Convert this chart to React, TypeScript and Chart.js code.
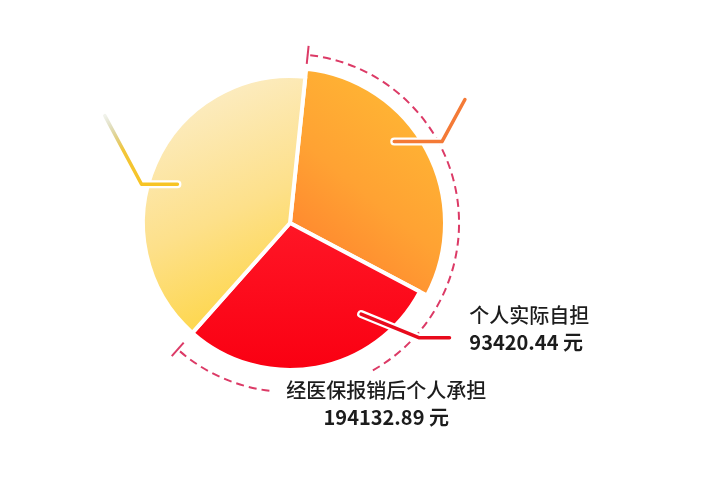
import { useEffect, useRef } from 'react';
import { Chart, registerables } from 'chart.js';
import type { Plugin, ScriptableContext } from 'chart.js';

Chart.register(...registerables);

// slices clockwise from the top: orange, red, yellow
const categories = ['其他个人承担', '个人实际自担', '医保报销'];
const amounts = [100712.45, 93420.44, 130000];
const unit = '元';
const rightLabel = '个人实际自担';
const bottomLabel = '经医保报销后个人承担';

const FONT = '"Noto Sans CJK SC", "Noto Sans", sans-serif';
const TEXT = '#1c1c1c';
const DASH = '#dc3a66';

// angle measured clockwise from 12 o'clock (degrees) -> canvas radians
const rad = (deg: number) => ((deg - 90) * Math.PI) / 180;

function sliceFill(context: ScriptableContext<'pie'>) {
  const index = context.dataIndex;
  const { chart } = context;
  const area = chart.chartArea;
  if (!area) return '#ffc53d';
  const cx = (area.left + area.right) / 2;
  const cy = (area.top + area.bottom) / 2;
  const r = Math.min(area.width, area.height) / 2;
  const c = chart.ctx;
  if (index === 0) {
    const g = c.createLinearGradient(cx + r * 0.95, cy - r * 0.85, cx + r * 0.05, cy + r * 0.25);
    g.addColorStop(0, '#ffb834');
    g.addColorStop(0.55, '#ffa233');
    g.addColorStop(1, '#ff832e');
    return g;
  }
  if (index === 1) {
    const g = c.createLinearGradient(cx, cy, cx, cy + r);
    g.addColorStop(0, '#ff1626');
    g.addColorStop(1, '#fa0012');
    return g;
  }
  const g = c.createLinearGradient(cx - r * 0.8, cy - r * 0.8, cx - r * 0.1, cy + r * 0.7);
  g.addColorStop(0, '#fcecc2');
  g.addColorStop(0.5, '#fde08a');
  g.addColorStop(1, '#fed43c');
  return g;
}

const decorPlugin: Plugin<'pie'> = {
  id: 'pieDecor',
  afterDatasetsUpdate(chart) {
    const arc = chart.getDatasetMeta(0).data[0] as any;
    if (arc) arc.outerRadius += 8;
  },
  afterDatasetsDraw(chart) {
    const arcs = chart.getDatasetMeta(0).data as any[];
    if (arcs.length < 3) return;
    const { ctx } = chart;
    const cx = arcs[1].x;
    const cy = arcs[1].y;
    const R = arcs[1].outerRadius;
    const pt = (a: number, r: number): [number, number] => [cx + r * Math.cos(a), cy + r * Math.sin(a)];

    ctx.save();

    // dashed bracket around the orange + red slices
    const Rd = R * 1.15;
    const a0 = arcs[0].startAngle;
    const a1 = arcs[1].endAngle;
    ctx.strokeStyle = DASH;
    ctx.lineWidth = 2;
    ctx.setLineDash([8, 5]);
    ctx.beginPath();
    ctx.arc(cx, cy, Rd, a0 + 0.015, rad(151));
    ctx.stroke();
    ctx.beginPath();
    ctx.arc(cx, cy, Rd, rad(187), a1 - 0.015);
    ctx.stroke();
    ctx.setLineDash([]);
    [a0, a1].forEach((a) => {
      const [x1, y1] = pt(a, Rd - 9);
      const [x2, y2] = pt(a, Rd + 9);
      ctx.beginPath();
      ctx.moveTo(x1, y1);
      ctx.lineTo(x2, y2);
      ctx.stroke();
    });

    // leader lines
    const leader = (pts: [number, number][], color: string | CanvasGradient) => {
      ctx.lineJoin = 'round';
      ctx.lineCap = 'round';
      ctx.beginPath();
      pts.forEach(([x, y], i) => (i ? ctx.lineTo(x, y) : ctx.moveTo(x, y)));
      ctx.strokeStyle = '#ffffff';
      ctx.lineWidth = 8;
      ctx.stroke();
      ctx.strokeStyle = color;
      ctx.lineWidth = 3.5;
      ctx.stroke();
    };

    const yA = pt(rad(289), R * 0.81);
    const yB: [number, number] = [cx - R * 1.01, yA[1]];
    const yC: [number, number] = [cx - R * 1.26, cy - R * 0.73];
    const yGrad = ctx.createLinearGradient(yB[0], yB[1], yC[0], yC[1]);
    yGrad.addColorStop(0, '#f7c425');
    yGrad.addColorStop(0.5, '#f2c63a');
    yGrad.addColorStop(1, 'rgba(160,170,120,0.15)');
    leader([yA, yB, yC], yGrad);

    const oA = pt(rad(52), R * 0.9);
    const oB: [number, number] = [cx + R * 1.034, oA[1]];
    const oC: [number, number] = [cx + R * 1.19, cy - R * 0.84];
    leader([oA, oB, oC], '#f47a36');

    const rA = pt(rad(142), R * 0.786);
    const rB: [number, number] = [cx + R * 0.876, cy + R * 0.78];
    const rC: [number, number] = [cx + R * 1.085, rB[1]];
    leader([rA, rB, rC], '#e80a1c');

    // labels
    ctx.fillStyle = TEXT;
    ctx.textBaseline = 'middle';
    ctx.textAlign = 'left';
    ctx.font = `500 20px ${FONT}`;
    ctx.fillText(rightLabel, cx + R * 1.22, cy + R * 0.63);
    ctx.font = `700 20px ${FONT}`;
    ctx.fillText(`${amounts[1].toFixed(2)} ${unit}`, cx + R * 1.22, cy + R * 0.815);

    const sum = amounts[0] + amounts[1];
    ctx.textAlign = 'center';
    ctx.font = `500 20px ${FONT}`;
    ctx.fillText(bottomLabel, cx + R * 0.655, cy + R * 1.14);
    ctx.font = `700 20px ${FONT}`;
    ctx.fillText(`${sum.toFixed(2)} ${unit}`, cx + R * 0.655, cy + R * 1.325);

    ctx.restore();
  },
};

export default function App() {
  const canvasRef = useRef<HTMLCanvasElement | null>(null);
  const chartRef = useRef<Chart<'pie'> | null>(null);

  useEffect(() => {
    if (!canvasRef.current) return;
    chartRef.current?.destroy();
    chartRef.current = new Chart(canvasRef.current, {
      type: 'pie',
      data: {
        labels: categories,
        datasets: [
          {
            data: amounts,
            backgroundColor: sliceFill,
            borderColor: '#ffffff',
            borderWidth: 4,
          },
        ],
      },
      options: {
        animation: false,
        responsive: true,
        maintainAspectRatio: false,
        rotation: 6,
        radius: 147,
        layout: { padding: { left: 143, right: 274, top: 76, bottom: 107 } },
        plugins: {
          legend: { display: false },
          tooltip: { enabled: false },
        },
      },
      plugins: [decorPlugin],
    });

    return () => {
      chartRef.current?.destroy();
      chartRef.current = null;
    };
  }, []);

  return (
    <div style={{ position: 'absolute', left: 0, top: 0, width: 711, height: 477, background: '#ffffff' }}>
      <canvas ref={canvasRef} aria-label="医疗费用构成" role="img" />
    </div>
  );
}
